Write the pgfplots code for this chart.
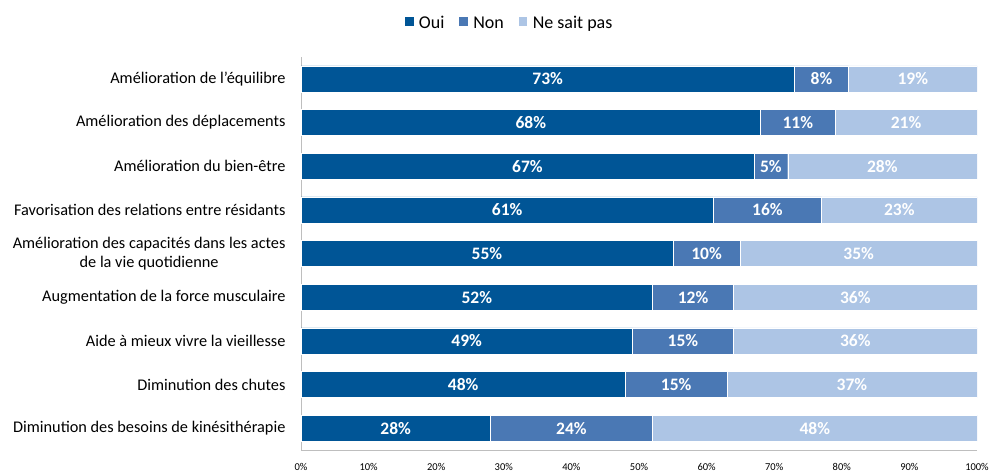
\documentclass[border=0pt]{standalone}
\usepackage{fontspec}
\setmainfont{Carlito}
\usepackage{pgfplots}
\usepackage{pgfplotstable}
\pgfplotsset{compat=1.18}
\definecolor{cOui}{RGB}{0,85,150}
\definecolor{cNon}{RGB}{74,120,180}
\definecolor{cNsp}{RGB}{173,197,229}
\definecolor{axgray}{RGB}{190,190,190}
\pgfplotstableread{
idx oui non nsp
0 73 8 19
1 68 11 21
2 67 5 28
3 61 16 23
4 55 10 35
5 52 12 36
6 49 15 36
7 48 15 37
8 28 24 48
}\datatable
\pgfplotstablecreatecol[create col/expr={\thisrow{oui}/2}]{moui}\datatable
\pgfplotstablecreatecol[create col/expr={\thisrow{oui}+\thisrow{non}/2}]{mnon}\datatable
\pgfplotstablecreatecol[create col/expr={\thisrow{oui}+\thisrow{non}+\thisrow{nsp}/2}]{mnsp}\datatable
\pgfplotsset{
  common/.style={
    at={(301bp,22bp)}, anchor=south west,
    scale only axis, width=676bp, height=393bp,
    xmin=0, xmax=100, ymin=-0.5, ymax=8.5,
    y dir=reverse,
  },
  lab/.style={only marks, mark=none, point meta=explicit symbolic,
    nodes near coords={\pgfplotspointmeta\%},
    every node near coord/.style={anchor=center, text=white, font=\bfseries\fontsize{17.5bp}{19bp}\selectfont}},
}
\begin{document}
\begin{tikzpicture}
\path[use as bounding box] (0,0) rectangle (993bp,472bp);
\begin{axis}[
  common,
  xbar stacked, bar width=26bp,
  axis x line*=bottom, axis y line*=left,
  axis line style={axgray, -},
  major tick length=0pt,
  xtick={0,10,...,100},
  xticklabels={0\%,10\%,20\%,30\%,40\%,50\%,60\%,70\%,80\%,90\%,100\%},
  xticklabel style={font=\fontsize{10.5bp}{12bp}\selectfont, yshift=-10bp},
  ytick={0,...,8},
  yticklabels={Amélioration de l'équilibre, Amélioration des déplacements, Amélioration du bien-être, Favorisation des relations entre résidants, {Amélioration des capacités dans les actes\\de la vie quotidienne}, Augmentation de la force musculaire, Aide à mieux vivre la vieillesse, Diminution des chutes, Diminution des besoins de kinésithérapie},
  yticklabel style={font=\fontsize{16.3bp}{19.5bp}\selectfont, align=center, xshift=-12bp},
  legend style={at={(0.308,1.0865)}, anchor=center, draw=none, legend columns=3,
    font=\fontsize{18bp}{20bp}\selectfont,
    /tikz/every odd column/.append style={column sep=3bp},
    /tikz/every even column/.append style={column sep=12bp}},
  legend image code/.code={\fill[#1] (0bp,-3bp) rectangle (9.5bp,6.5bp);},
]
\addplot[fill=cOui, draw=white, line width=0.4pt] table[x=oui, y=idx] \datatable;
\addlegendentry{Oui}
\addplot[fill=cNon, draw=white, line width=0.4pt] table[x=non, y=idx] \datatable;
\addlegendentry{Non}
\addplot[fill=cNsp, draw=white, line width=0.4pt] table[x=nsp, y=idx] \datatable;
\addlegendentry{Ne sait pas}
\end{axis}
\begin{axis}[common, hide axis]
\addplot[lab] table[x=moui, y=idx, meta=oui] \datatable;
\addplot[lab] table[x=mnon, y=idx, meta=non] \datatable;
\addplot[lab] table[x=mnsp, y=idx, meta=nsp] \datatable;
\end{axis}
\end{tikzpicture}
\end{document}
